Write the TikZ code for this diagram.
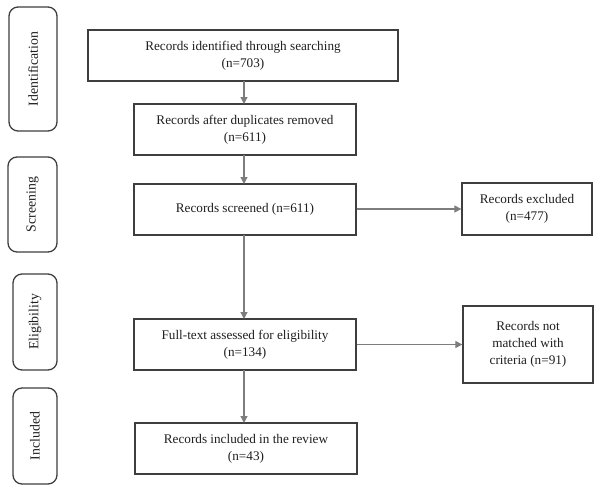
\documentclass[tikz,border=0pt]{standalone}
\usepackage{fontspec}
\setmainfont{Liberation Serif}
\usetikzlibrary{arrows.meta}
\definecolor{boxgray}{RGB}{62,62,62}
\definecolor{arrgray}{RGB}{125,125,125}
\definecolor{txt}{RGB}{30,30,30}
\begin{document}
\begin{tikzpicture}[x=1pt,y=-1pt,
  box/.style={draw=boxgray, line width=1.3pt, align=center, text=txt,
    font=\fontsize{13.2}{16.8}\selectfont, inner sep=0pt},
  phase/.style={draw=boxgray, line width=1.3pt, rounded corners=9pt, rotate=90,
    text=txt, font=\fontsize{13.8}{16.8}\selectfont, inner sep=0pt},
  arr/.style={draw=arrgray, line width=1.2pt, -{Triangle[length=7pt,width=7pt]}}]
\useasboundingbox (0,0) rectangle (600,491);
% phases
\node[phase, minimum width=124pt, minimum height=48pt] (p1) at (33,69) {Identification};
\node[phase, minimum width=95pt, minimum height=49pt] (p2) at (32.5,204.5) {Screening};
\node[phase, minimum width=96pt, minimum height=44pt] (p3) at (35,322) {Eligibility};
\node[phase, minimum width=96pt, minimum height=44pt] (p4) at (35,436) {Included};
% main boxes
\node[box, minimum width=310pt, minimum height=51pt] (b1) at (243,55.5) {Records identified through searching\\(n=703)};
\node[box, minimum width=222pt, minimum height=51pt] (b2) at (245,129.5) {Records after duplicates removed\\(n=611)};
\node[box, minimum width=222pt, minimum height=51pt] (b3) at (245,209.5) {Records screened (n=611)};
\node[box, minimum width=222pt, minimum height=51pt] (b4) at (245,344.5) {Full-text assessed for eligibility\\(n=134)};
\node[box, minimum width=222pt, minimum height=51pt] (b5) at (246,448.5) {Records included in the review\\(n=43)};
% side boxes
\node[box, minimum width=130pt, minimum height=52pt] (e1) at (527,209) {Records excluded\\(n=477)};
\node[box, minimum width=130pt, minimum height=77pt] (e2) at (528,344.5) {Records not\\matched with\\criteria (n=91)};
% coordinates for arrow column
\coordinate (c1) at (244,81);
\coordinate (c2) at (244,104);
\coordinate (c3) at (244,155);
\coordinate (c4) at (244,184);
\coordinate (c5) at (244,235);
\coordinate (c6) at (244,319);
\coordinate (c7) at (244,370);
\coordinate (c8) at (244,423);
\draw[arr] (c1) -- (c2);
\draw[arr] (c3) -- (c4);
\draw[arr] (c5) -- (c6);
\draw[arr] (c7) -- (c8);
\draw[arr] (b3.east |- e1.west) -- (e1.west);
\draw[arr] (b4.east) -- (e2.west);
\end{tikzpicture}
\end{document}
